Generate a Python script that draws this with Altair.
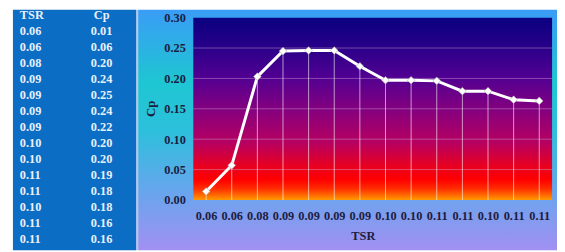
import json
import altair as alt
import pandas as pd

# ---- data ----
tsr_labels = ["0.06", "0.06", "0.08", "0.09", "0.09", "0.09", "0.09",
              "0.10", "0.10", "0.11", "0.11", "0.10", "0.11", "0.11"]
cp_table = ["0.01", "0.06", "0.20", "0.24", "0.25", "0.24", "0.22",
            "0.20", "0.20", "0.19", "0.18", "0.18", "0.16", "0.16"]
cp_plot = [0.014, 0.057, 0.203, 0.245, 0.246, 0.246, 0.220,
           0.197, 0.197, 0.196, 0.179, 0.179, 0.165, 0.163]
grid_values = [0.05, 0.10, 0.15, 0.20, 0.25]
table_header = ["TSR", "Cp"]

W, H = 364, 185
FONT = "Liberation Serif"
FS = 12.5

main_df = pd.DataFrame({"idx": list(range(len(cp_plot))), "tsr": tsr_labels, "cp": cp_plot})
grid_df = pd.DataFrame({"g": grid_values})
table_df = pd.DataFrame({
    "row": list(range(len(tsr_labels) + 1)),
    "tsr": [table_header[0]] + tsr_labels,
    "cp": [table_header[1]] + cp_table,
})
one = pd.DataFrame({"a": [0]})

def grad(stops):
    return {"gradient": "linear", "x1": 0, "y1": 0, "x2": 0, "y2": 1,
            "stops": [{"offset": o, "color": c} for o, c in stops]}

panel_fill = grad([(0, "#3a9cf6"), (0.3, "#1ec6d2"), (0.5, "#2cc0dc"),
                   (0.75, "#66a6ec"), (1, "#a290f2")])
plot_fill = grad([(0, "#0a0080"), (0.15, "#260088"), (0.33, "#520092"),
                  (0.51, "#86007e"), (0.69, "#b80060"), (0.83, "#ee0018"),
                  (0.89, "#ff0000"), (0.94, "#ff3000"), (1, "#ff9a00")])

panel = alt.Chart(one).mark_rect(fill=panel_fill).encode(
    x=alt.value(-56), x2=alt.value(369), y=alt.value(-8), y2=alt.value(236))
gap = alt.Chart(one).mark_rect(fill="#b4c8ef").encode(
    x=alt.value(-58), x2=alt.value(-56), y=alt.value(-8), y2=alt.value(236))
table_bg = alt.Chart(one).mark_rect(fill="#0b6dc3").encode(
    x=alt.value(-183), x2=alt.value(-58), y=alt.value(-8), y2=alt.value(236))
plot_bg = alt.Chart(one).mark_rect(fill=plot_fill).encode(
    x=alt.value(0), x2=alt.value(W), y=alt.value(0), y2=alt.value(H))

label_expr = json.dumps(tsr_labels) + "[datum.value]"
x_enc = alt.X("idx:O", scale=alt.Scale(type="point", padding=0.5),
              axis=alt.Axis(labelExpr=label_expr, labelAngle=0, domain=False, ticks=False,
                            grid=False, labelPadding=10, labelFont=FONT, labelFontWeight="bold",
                            labelFontSize=FS, labelColor="#1c1c40", zindex=1,
                            title="TSR", titleFont=FONT, titleFontWeight="bold",
                            titleFontSize=12.5, titleColor="#1c1c40",
                            titleX=172, titleY=36, titleBaseline="middle", titleAlign="center"))
y_scale = alt.Scale(domain=[0, 0.30], nice=False)
y_axis = alt.Axis(values=[0, 0.05, 0.10, 0.15, 0.20, 0.25, 0.30], format=".2f",
                  domain=False, ticks=False, grid=False, labelPadding=8, zindex=1,
                  labelFont=FONT, labelFontWeight="bold", labelFontSize=FS,
                  labelColor="#1c1c40",
                  title="Cp", titleFont=FONT, titleFontWeight="bold", titleFontSize=13,
                  titleColor="#1c1c40", titleX=-43, titleY=92, titleAngle=-90,
                  titleAlign="center", titleBaseline="middle")

grid = alt.Chart(grid_df).mark_rule(color="#c8a8d0", opacity=0.45, strokeWidth=1).encode(
    y=alt.Y("g:Q", scale=y_scale, axis=y_axis), x=alt.value(0), x2=alt.value(W))
drops = alt.Chart(main_df).mark_rule(color="white", opacity=0.6, strokeWidth=1).encode(
    x=x_enc, y=alt.Y("cp:Q", scale=y_scale, axis=y_axis), y2=alt.datum(0))
line = alt.Chart(main_df).mark_line(color="white", strokeWidth=3).encode(
    x=x_enc, y=alt.Y("cp:Q", scale=y_scale, axis=y_axis))
pts = alt.Chart(main_df).mark_point(shape="diamond", filled=True, fill="white",
                                    stroke="#a8a8a8", strokeWidth=0.6, size=60,
                                    opacity=1).encode(
    x=x_enc, y=alt.Y("cp:Q", scale=y_scale, axis=y_axis))
main = alt.layer(grid, drops, line, pts)

t_scale = alt.Scale(domain=[0, len(tsr_labels)], range=[-2.5, 224.7], nice=False, zero=False)
tsr_text = alt.Chart(table_df).mark_text(align="left", baseline="middle", font=FONT,
                                         fontWeight="bold", fontSize=FS,
                                         color="#e8f0fb").encode(
    x=alt.value(-176), y=alt.Y("row:Q", scale=t_scale, axis=None), text="tsr:N")
cp_text = alt.Chart(table_df).mark_text(align="center", baseline="middle", font=FONT,
                                        fontWeight="bold", fontSize=FS,
                                        color="#e8f0fb").encode(
    x=alt.value(-93), y=alt.Y("row:Q", scale=t_scale, axis=None), text="cp:N")
table = alt.layer(tsr_text, cp_text)

chart = alt.layer(panel, gap, table_bg, plot_bg, main, table).resolve_scale(
    y="independent"
).properties(
    width=W, height=H,
    padding={"left": 188, "top": 8, "right": 5, "bottom": 51},
    autosize=alt.AutoSizeParams(type="none"),
    background="white",
).configure_view(stroke=None)

chart.save("out.html", embed_options={"renderer": "svg", "actions": False})
